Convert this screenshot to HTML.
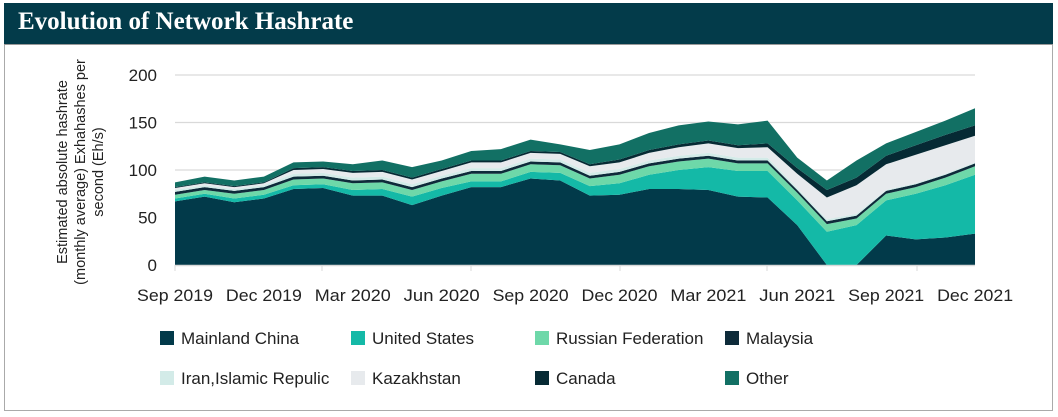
<!DOCTYPE html>
<html><head><meta charset="utf-8"><style>
body{margin:0;width:1058px;height:417px;background:#fff;overflow:hidden;font-family:"Liberation Sans",sans-serif}
#box{position:absolute;left:4px;top:3px;width:1049px;height:408px;border:1px solid #aaa;box-sizing:border-box}
#hdr{position:absolute;left:4px;top:3px;width:1049px;height:42px;background:#033b4a;border-bottom:1px solid #999;box-sizing:border-box}
#hdr span{position:absolute;left:14px;top:5px;color:#fff;font:bold 25px "Liberation Serif",serif}
svg{position:absolute;left:0;top:0}
</style></head><body>
<div id="box"></div><div id="hdr"><span>Evolution of Network Hashrate</span></div>
<svg width="1058" height="417" id="s"></svg>
<script>
var tot=[87,93,89,93,108,109,106,110,103,110,120,122,132,127,121,127,139,147,151,148,152,113,89,110,128,140,152,165];
var L={
china:[67,72,66,70,80,81,73,73,63,73,82,82,91,89,73,74,80,80,79,72,71,42,0,0,31,27,29,33],
us:[3,3,4,4,4,4,6,7,9,8,6,6,7,8,10,12,15,20,24,27,28,26,35,42,37,48,55,62],
ru:[4,4,5,5,6,6,7,7,7,7,8,8,8,8,8,9,9,9,9,8,8,8,8,7,7,7,8,9],
my:[3,3,3,3,3,3,3,3,3,3,3,3,3,3,3,3,3,3,3,3,3,3,3,3,3,3,3,3],
ir:[2,2,2,2,3,3,3,3,3,3,3,3,3,3,3,3,3,3,3,3,3,2,2,2,1,1,1,1],
kz:[2,2,2,2,4,4,5,5,5,5,6,6,6,6,7,7,8,9,10,10,11,15,23,30,27,30,30,28],
ca:[1,1,1,1,2,2,2,2,2,2,2,2,2,2,2,3,3,3,3,3,4,6,8,8,9,10,11,11]};
var cols={china:"#023a4a",us:"#14b9a7",ru:"#6ed8a9",my:"#0e2b3a",ir:"#d3ebe8",kz:"#e7eaed",ca:"#062a34",ot:"#127064"};
var keys=["china","us","ru","my","ir","kz","ca"];
L.ot=tot.map((t,i)=>Math.max(0,t-keys.reduce((a,k)=>a+L[k][i],0)));keys.push("ot");
var X=i=>175+i*29.63,Y=v=>265-v*0.95;
var h='';
[50,100,150,200].forEach(v=>h+=`<line x1="175" x2="975" y1="${Y(v)}" y2="${Y(v)}" stroke="#d9d9d9" stroke-width="1.3"/>`);
var base=tot.map(()=>0);
keys.forEach(k=>{var top=base.map((b,i)=>b+L[k][i]);var p='M';
for(var i=0;i<28;i++)p+=X(i)+','+Y(top[i])+' L';
for(var i=27;i>=0;i--)p+=X(i)+','+Y(base[i])+(i?' L':'Z');
h+=`<path d="${p}" fill="${cols[k]}"/>`;base=top;});
h+=`<line x1="175" x2="975" y1="265.5" y2="265.5" stroke="#d9d9d9" stroke-width="1.5"/>`;
[175,322,471,620,767,917].forEach(x=>h+=`<line x1="${x}" x2="${x}" y1="265" y2="271" stroke="#d9d9d9"/>`);
[0,50,100,150,200].forEach(v=>h+=`<text x="157" y="${Y(v)+6}" text-anchor="end" font-size="17" fill="#222">${v}</text>`);
["Sep 2019","Dec 2019","Mar 2020","Jun 2020","Sep 2020","Dec 2020","Mar 2021","Jun 2021","Sep 2021","Dec 2021"].forEach((t,i)=>h+=`<text x="${175+i*88.9-38}" y="301" font-size="17" fill="#222" textLength="76" lengthAdjust="spacingAndGlyphs">${t}</text>`);
h+=`<g transform="translate(80,172) rotate(-90)" font-size="14.5" fill="#222" text-anchor="middle"><text y="-13">Estimated absolute hashrate</text><text y="5">(monthly average) Exhahashes per</text><text y="23">second (Eh/s)</text></g>`;
var lg=[["Mainland China","china",160,338],["United States","us",351,338],["Russian Federation","ru",535,338],["Malaysia","my",725,338],["Iran,Islamic Repulic","ir",160,378],["Kazakhstan","kz",351,378],["Canada","ca",535,378],["Other","ot",725,378]];
lg.forEach(a=>h+=`<rect x="${a[2]}" y="${a[3]-7}" width="14" height="14" fill="${cols[a[1]]}"/><text x="${a[2]+21}" y="${a[3]+6}" font-size="17" fill="#222">${a[0]}</text>`);
document.getElementById('s').innerHTML=h;
</script>
</body></html>
